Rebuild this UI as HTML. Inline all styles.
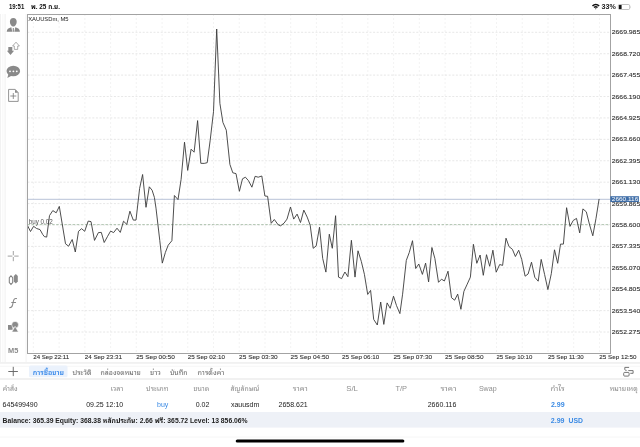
<!DOCTYPE html>
<html><head><meta charset="utf-8">
<style>
html,body{margin:0;padding:0;background:#fff;}
body{width:640px;height:447px;overflow:hidden;position:relative;font-family:"Liberation Sans","Noto Sans Thai Looped",sans-serif;}
svg{position:absolute;left:0;top:0;}
text{font-family:"Liberation Sans","Noto Sans Thai Looped",sans-serif;}
.th{font-family:"Liberation Sans","Noto Sans Thai Looped",sans-serif;}
.hgrid line{stroke:#e1e1e1;stroke-width:0.8;stroke-dasharray:2 1.6;}
.vgrid line{stroke:#e1e1e1;stroke-width:0.8;stroke-dasharray:1 3;}
.plab text{font-size:6px;fill:#333;stroke:#333;stroke-width:0.12px;}
.tlab text{font-size:6.1px;fill:#333;stroke:#333;stroke-width:0.1px;}
.ic{fill:#8a8a8a;}
.hdr text{font-size:6.6px;fill:#8e8e8e;}
.row text{font-size:7px;fill:#222;}
.tabs text{font-size:6.6px;fill:#6a6a6a;}
</style></head><body>
<svg width="640" height="447" viewBox="0 0 640 447">
<!-- status bar -->
<text x="8.9" y="8.8" style="font-size:6.6px;font-weight:bold;fill:#111" textLength="15.4" lengthAdjust="spacingAndGlyphs">19:51</text>
<text x="31" y="8.8" style="font-size:6.6px;font-weight:bold;fill:#111" textLength="29" lengthAdjust="spacingAndGlyphs">พ. 25 ก.ย.</text>
<g fill="#111">
<path d="M591.9,5.4 A5.6,5.6 0 0 1 599.7,5.4 L598.6,6.6 A4,4 0 0 0 593,6.6 Z"/>
<path d="M593.5,7 A3.4,3.4 0 0 1 598.1,7 L597,8.1 A1.9,1.9 0 0 0 594.6,8.1 Z"/>
<path d="M595.1,8.6 A1,1 0 0 1 596.5,8.6 L595.8,9.4 Z"/>
</g>
<text x="601.6" y="8.9" style="font-size:6.5px;font-weight:bold;fill:#222" textLength="14.3" lengthAdjust="spacingAndGlyphs">33%</text>
<rect x="618.3" y="4.5" width="11.4" height="5" rx="1.3" fill="none" stroke="#999" stroke-width="0.6"/>
<rect x="618.9" y="5.1" width="2.7" height="3.8" rx="0.5" fill="#111"/>
<path d="M630.2,6.2 Q631.3,7.05 630.2,7.9 Z" fill="#aaa"/>

<!-- sidebar icons -->
<rect x="0" y="14" width="1" height="348" fill="#f2f2f2"/>
<rect x="2.5" y="14" width="0.8" height="348" fill="#f5f5f5"/>
<rect x="4.6" y="14" width="1" height="348" fill="#f0f0f0"/>
<rect x="25.6" y="14" width="1" height="348" fill="#f3f3f3"/>
<g class="ic">
<path d="M13.3,17.9 C15.5,17.9 16.7,19.6 16.7,21.8 C16.7,24.3 15.2,26.6 13.3,26.6 C11.4,26.6 9.9,24.3 9.9,21.8 C9.9,19.6 11.1,17.9 13.3,17.9 Z"/>
<path d="M6.7,31.8 C6.7,29.3 8.4,27.9 11.3,27.2 L12.3,31.8 Z"/>
<path d="M19.9,31.8 C19.9,29.3 18.2,27.9 15.3,27.2 L14.3,31.8 Z"/>
<path d="M12.8,28.1 H13.8 L14,31.8 H12.6 Z"/>
</g>
<g class="ic">
<path d="M8.3,46.9 H12.3 V50.7 H14.1 L10.5,55.1 L6.9,50.7 H8.3 Z"/>
</g>
<path d="M16,42.2 L19.4,46 H17.7 V49.4 H14.3 V46 H12.6 Z" fill="#fff" stroke="#8a8a8a" stroke-width="0.7"/>
<g class="ic">
<ellipse cx="13.3" cy="71" rx="6.8" ry="5.3"/>
<path d="M8.5,74 L7.3,78 L12,75.6 Z"/>
</g>
<g fill="#fff"><circle cx="10" cy="71.3" r="0.9"/><circle cx="13.4" cy="71.3" r="0.9"/><circle cx="16.8" cy="71.3" r="0.9"/></g>
<path d="M8.6,89.4 H15.2 L18.2,92.6 V101.4 H8.6 Z" fill="none" stroke="#7a7a7a" stroke-width="0.8"/>
<path d="M15,89.4 L18.2,92.7 H15 Z" fill="#8a8a8a"/>
<path d="M10.3,96 H16.3 M13.3,93 V99" stroke="#7a7a7a" stroke-width="0.8"/>
<path d="M7.7,256.1 H12.4 M14.2,256.1 H18.6 M13.3,251 V255.2 M13.3,257 V261.2" stroke="#8a8a8a" stroke-width="0.8"/>
<path d="M11,275.8 L12.7,277.7 V282.5 L11,284.4 L9.3,282.5 V277.7 Z" fill="#fff" stroke="#808080" stroke-width="1.05"/>
<path d="M15.8,273.9 L17.8,276 V281.4 L15.8,283.5 L13.8,281.4 V276 Z" fill="#8a8a8a"/>
<path d="M16.5,298.6 C14.9,298 13.9,299.3 13.4,301.2 L12.6,304.8 C12.2,306.6 11.3,307.6 9.6,307.7 M11.7,302.4 H15.6" fill="none" stroke="#888" stroke-width="1.05" stroke-linecap="round"/>
<rect x="8" y="325" width="4.6" height="4.8" fill="#8a8a8a"/>
<circle cx="15.1" cy="324.8" r="3.4" fill="#8a8a8a" stroke="#fff" stroke-width="0.6"/>
<path d="M15.1,326.3 L18.4,332 H11.8 Z" fill="#8a8a8a" stroke="#fff" stroke-width="0.6"/>
<text x="8" y="352.9" style="font-size:7.4px;font-weight:bold;fill:#8a8a8a">M5</text>

<!-- chart -->
<g class="hgrid"><line x1="27.5" y1="32.30" x2="610.5" y2="32.30"/><line x1="27.5" y1="53.71" x2="610.5" y2="53.71"/><line x1="27.5" y1="75.12" x2="610.5" y2="75.12"/><line x1="27.5" y1="96.53" x2="610.5" y2="96.53"/><line x1="27.5" y1="117.94" x2="610.5" y2="117.94"/><line x1="27.5" y1="139.35" x2="610.5" y2="139.35"/><line x1="27.5" y1="160.76" x2="610.5" y2="160.76"/><line x1="27.5" y1="182.17" x2="610.5" y2="182.17"/><line x1="27.5" y1="203.58" x2="610.5" y2="203.58"/><line x1="27.5" y1="224.99" x2="610.5" y2="224.99"/><line x1="27.5" y1="246.40" x2="610.5" y2="246.40"/><line x1="27.5" y1="267.81" x2="610.5" y2="267.81"/><line x1="27.5" y1="289.22" x2="610.5" y2="289.22"/><line x1="27.5" y1="310.63" x2="610.5" y2="310.63"/><line x1="27.5" y1="332.04" x2="610.5" y2="332.04"/></g>
<g class="vgrid"><line x1="33.40" y1="14.5" x2="33.40" y2="352.5"/><line x1="59.13" y1="14.5" x2="59.13" y2="352.5"/><line x1="84.86" y1="14.5" x2="84.86" y2="352.5"/><line x1="110.59" y1="14.5" x2="110.59" y2="352.5"/><line x1="136.32" y1="14.5" x2="136.32" y2="352.5"/><line x1="162.05" y1="14.5" x2="162.05" y2="352.5"/><line x1="187.78" y1="14.5" x2="187.78" y2="352.5"/><line x1="213.51" y1="14.5" x2="213.51" y2="352.5"/><line x1="239.24" y1="14.5" x2="239.24" y2="352.5"/><line x1="264.97" y1="14.5" x2="264.97" y2="352.5"/><line x1="290.70" y1="14.5" x2="290.70" y2="352.5"/><line x1="316.43" y1="14.5" x2="316.43" y2="352.5"/><line x1="342.16" y1="14.5" x2="342.16" y2="352.5"/><line x1="367.89" y1="14.5" x2="367.89" y2="352.5"/><line x1="393.62" y1="14.5" x2="393.62" y2="352.5"/><line x1="419.35" y1="14.5" x2="419.35" y2="352.5"/><line x1="445.08" y1="14.5" x2="445.08" y2="352.5"/><line x1="470.81" y1="14.5" x2="470.81" y2="352.5"/><line x1="496.54" y1="14.5" x2="496.54" y2="352.5"/><line x1="522.27" y1="14.5" x2="522.27" y2="352.5"/><line x1="548.00" y1="14.5" x2="548.00" y2="352.5"/><line x1="573.73" y1="14.5" x2="573.73" y2="352.5"/><line x1="599.46" y1="14.5" x2="599.46" y2="352.5"/></g>
<line x1="27.5" y1="199.3" x2="610" y2="199.3" stroke="#aab6cf" stroke-width="0.85"/>
<line x1="27.5" y1="224.6" x2="610" y2="224.6" stroke="#a3bba3" stroke-width="0.85" stroke-dasharray="2.5 1.6"/>
<text x="28.8" y="223.6" style="font-size:6.3px;fill:#555" textLength="24" lengthAdjust="spacingAndGlyphs">buy 0.02</text>
<text x="28.2" y="20.8" style="font-size:5.8px;fill:#1a1a1a" textLength="40.4" lengthAdjust="spacingAndGlyphs">XAUUSDm, M5</text>
<polyline points="27.3,225.1 30.5,231.5 33.6,226.3 36.6,228.5 40,229.6 42.8,234.6 44.4,236.6 46.7,237.1 49.5,215.6 52.8,210.6 56.2,212.8 59.3,206.4 65.5,243.8 68.6,246.2 72.2,239.5 75.3,252 78.5,231.3 81.6,228.7 84.7,231.3 88.2,221.1 91,221.6 94.5,240.4 98.4,232.6 101.3,232.4 104.2,242.5 107.6,236.3 110.6,231.1 113.6,232.6 117,228.2 120.3,232.4 123.5,221.2 126.8,224.4 129.9,211.2 133.3,220.1 136,220.1 139.6,188.5 142.6,174.5 146,207.3 149.3,186.8 152.1,190.2 154.4,197.4 156,208.2 159.8,240.7 162.3,263.1 165.4,252.4 168.2,245.2 171.9,240.7 174.4,195.5 178,199.6 181.1,179.4 184.5,142.2 187.7,170.4 191.1,149.2 194.1,152.2 197.6,120.6 200.8,163.3 204.2,163.4 207.2,162.7 210.2,140.2 213.5,111.7 216.7,29 219.9,103.4 222.9,122.4 226.3,130.2 229.9,164.4 232.8,172.8 236,173.6 239.4,191.3 242.5,178.8 245.4,177.2 248.5,180.7 251.9,187.2 255.1,176.3 258.2,177.2 261.8,176 264.9,196 267.6,196.3 271.2,223.3 274.3,219.5 278.2,224.8 280.6,225.8 284,223.2 287,219.1 290.5,207 293.7,219.1 297.1,214.1 300.5,222.5 303.8,210.1 307.2,217.1 310.2,225.2 313.2,248.3 316.2,245.9 319.5,227.2 322.7,258.4 325.9,272.1 329.3,234.2 332.3,248.3 335.6,215.7 338.5,277.1 341.6,278.6 344.9,272 347.9,276.7 351.4,240.3 355,277.1 358,250.8 361.3,261.4 364.4,274.3 367.7,294.4 370.6,290.4 373.7,319.4 377.3,325 380.7,302 383.8,324.4 387.1,302.9 390.2,308.3 393.5,296.2 396.5,305.6 399.9,313.6 402.6,294.2 406.3,260.4 409.3,252.4 412.5,240.7 415.7,268.5 418.8,264 422.4,274.4 425.6,263.1 428.6,281.9 431.9,247.5 434.9,258.6 438.5,282.3 441.5,279.2 444.4,281 448,271.2 451.5,297.7 454.6,300.2 457.7,294.1 460.9,309.3 463.9,291.4 467.2,284.2 470.4,277.1 473.4,244.3 476.8,263.3 480.1,255 483.3,275.3 486.5,254.7 489.7,266.3 492.9,250.2 496.2,272.2 499.7,264.5 502.6,265.4 506,238.2 509,246.6 512.4,249.3 515.4,256.5 518.7,250.2 521.7,259.4 525.1,276.2 528.1,274 531.5,262.2 534.8,277.3 538.2,281.2 541.2,259.4 544.6,274.5 547.9,289.6 551.3,273.7 554.5,249.8 557.7,263.3 560.5,244.1 563.4,244.1 566.6,207.7 570,226.4 573.2,220.5 576.5,218.4 579.7,232.9 582.9,208.9 586.3,211.8 589.6,224.9 592.8,235.8 596,218.4 599.1,199" fill="none" stroke="#3a3a3a" stroke-width="0.9" stroke-linejoin="miter"/>
<rect x="27.5" y="14.5" width="583" height="339" fill="none" stroke="#a3a3a3" stroke-width="1"/>
<g class="plab"><text x="611.8" y="34.30" textLength="28.4" lengthAdjust="spacingAndGlyphs">2669.985</text><text x="611.8" y="55.71" textLength="28.4" lengthAdjust="spacingAndGlyphs">2668.720</text><text x="611.8" y="77.12" textLength="28.4" lengthAdjust="spacingAndGlyphs">2667.455</text><text x="611.8" y="98.53" textLength="28.4" lengthAdjust="spacingAndGlyphs">2666.190</text><text x="611.8" y="119.94" textLength="28.4" lengthAdjust="spacingAndGlyphs">2664.925</text><text x="611.8" y="141.35" textLength="28.4" lengthAdjust="spacingAndGlyphs">2663.660</text><text x="611.8" y="162.76" textLength="28.4" lengthAdjust="spacingAndGlyphs">2662.395</text><text x="611.8" y="184.17" textLength="28.4" lengthAdjust="spacingAndGlyphs">2661.130</text><text x="611.8" y="226.99" textLength="28.4" lengthAdjust="spacingAndGlyphs">2658.600</text><text x="611.8" y="248.40" textLength="28.4" lengthAdjust="spacingAndGlyphs">2657.335</text><text x="611.8" y="269.81" textLength="28.4" lengthAdjust="spacingAndGlyphs">2656.070</text><text x="611.8" y="291.22" textLength="28.4" lengthAdjust="spacingAndGlyphs">2654.805</text><text x="611.8" y="312.63" textLength="28.4" lengthAdjust="spacingAndGlyphs">2653.540</text><text x="611.8" y="334.04" textLength="28.4" lengthAdjust="spacingAndGlyphs">2652.275</text><text x="611.8" y="205.58" textLength="28.4" lengthAdjust="spacingAndGlyphs">2659.865</text></g>
<rect x="610.3" y="196.2" width="28.6" height="5.8" fill="#3f6ea8"/>
<text x="611.8" y="201.4" style="font-size:6px;fill:#fff" textLength="26.5" lengthAdjust="spacingAndGlyphs">2660.116</text>
<g class="tlab"><text x="33.30" y="359.3" textLength="35.8" lengthAdjust="spacingAndGlyphs">24 Sep 22:11</text><text x="84.76" y="359.3" textLength="37.2" lengthAdjust="spacingAndGlyphs">24 Sep 23:31</text><text x="136.22" y="359.3" textLength="38.6" lengthAdjust="spacingAndGlyphs">25 Sep 00:50</text><text x="187.68" y="359.3" textLength="37.2" lengthAdjust="spacingAndGlyphs">25 Sep 02:10</text><text x="239.14" y="359.3" textLength="38.6" lengthAdjust="spacingAndGlyphs">25 Sep 03:30</text><text x="290.60" y="359.3" textLength="38.6" lengthAdjust="spacingAndGlyphs">25 Sep 04:50</text><text x="342.06" y="359.3" textLength="37.2" lengthAdjust="spacingAndGlyphs">25 Sep 06:10</text><text x="393.52" y="359.3" textLength="38.6" lengthAdjust="spacingAndGlyphs">25 Sep 07:30</text><text x="444.98" y="359.3" textLength="38.6" lengthAdjust="spacingAndGlyphs">25 Sep 08:50</text><text x="496.44" y="359.3" textLength="35.8" lengthAdjust="spacingAndGlyphs">25 Sep 10:10</text><text x="547.90" y="359.3" textLength="35.8" lengthAdjust="spacingAndGlyphs">25 Sep 11:30</text><text x="599.36" y="359.3" textLength="37.2" lengthAdjust="spacingAndGlyphs">25 Sep 12:50</text></g>

<!-- tab bar -->
<rect x="0" y="362" width="640" height="1.8" fill="#f1f1f1"/>
<rect x="0" y="365.8" width="640" height="0.9" fill="#f5f5f5"/>
<rect x="0" y="378" width="640" height="2" fill="#f1f1f1"/>
<path d="M8.3,371.5 H17.9 M13.25,366.8 V376.1" stroke="#666" stroke-width="0.95"/>
<rect x="29" y="365.6" width="38.5" height="11.6" rx="1.5" fill="#ebf2fc"/>
<g class="tabs">
<text x="32.8" y="374.6" style="fill:#3a8aea;font-weight:600" textLength="31.2" lengthAdjust="spacingAndGlyphs">การซื้อขาย</text>
<text x="72.5" y="374.6" textLength="19" lengthAdjust="spacingAndGlyphs">ประวัติ</text>
<text x="100.6" y="374.6" textLength="40.3" lengthAdjust="spacingAndGlyphs">กล่องจดหมาย</text>
<text x="150" y="374.6" textLength="10.8" lengthAdjust="spacingAndGlyphs">ข่าว</text>
<text x="169.9" y="374.6" textLength="17.6" lengthAdjust="spacingAndGlyphs">บันทึก</text>
<text x="197.5" y="374.6" textLength="26.7" lengthAdjust="spacingAndGlyphs">การตั้งค่า</text>
</g>
<g fill="none" stroke="#6e6e6e" stroke-width="0.95">
<rect x="623.7" y="372.4" width="5.4" height="3.7" rx="1"/>
<path d="M629.1,367.4 H624.8 V369.5 Q624.8,370.4 626.6,370.4 M628.3,370.6 H633.1 V373.3 H630.3"/>
</g>

<!-- table header -->
<g class="hdr">
<text x="2.7" y="390.6" textLength="15" lengthAdjust="spacingAndGlyphs">คำสั่ง</text>
<text x="123.2" y="390.6" text-anchor="end" textLength="12.7" lengthAdjust="spacingAndGlyphs">เวลา</text>
<text x="168.3" y="390.6" text-anchor="end" textLength="22.2" lengthAdjust="spacingAndGlyphs">ประเภท</text>
<text x="209.3" y="390.6" text-anchor="end" textLength="15.7" lengthAdjust="spacingAndGlyphs">ขนาด</text>
<text x="259.3" y="390.6" text-anchor="end" textLength="28.7" lengthAdjust="spacingAndGlyphs">สัญลักษณ์</text>
<text x="307.7" y="390.6" text-anchor="end" textLength="14.9" lengthAdjust="spacingAndGlyphs">ราคา</text>
<text x="357.9" y="390.6" text-anchor="end" textLength="11.7" lengthAdjust="spacingAndGlyphs">S/L</text>
<text x="407.1" y="390.6" text-anchor="end" textLength="11.6" lengthAdjust="spacingAndGlyphs">T/P</text>
<text x="456.4" y="390.6" text-anchor="end" textLength="16" lengthAdjust="spacingAndGlyphs">ราคา</text>
<text x="496.6" y="390.6" text-anchor="end" textLength="17.7" lengthAdjust="spacingAndGlyphs">Swap</text>
<text x="564.6" y="390.6" text-anchor="end" textLength="14.2" lengthAdjust="spacingAndGlyphs">กำไร</text>
<text x="637.7" y="390.6" text-anchor="end" textLength="28" lengthAdjust="spacingAndGlyphs">หมายเหตุ</text>
</g>
<g class="row">
<text x="2.6" y="406.9">645499490</text>
<text x="123.2" y="406.9" text-anchor="end">09.25 12:10</text>
<text x="168.3" y="406.9" text-anchor="end" style="fill:#3a8ae4">buy</text>
<text x="209.3" y="406.9" text-anchor="end">0.02</text>
<text x="259.3" y="406.9" text-anchor="end">xauusdm</text>
<text x="307.7" y="406.9" text-anchor="end">2658.621</text>
<text x="456.4" y="406.9" text-anchor="end">2660.116</text>
<text x="564.6" y="406.9" text-anchor="end" style="fill:#3a8ae4;font-weight:bold">2.99</text>
</g>
<rect x="0" y="412" width="640" height="15.6" fill="#eef1f7"/>
<text x="2.6" y="422.9" style="font-size:7px;font-weight:bold;fill:#222" textLength="245" lengthAdjust="spacingAndGlyphs">Balance: 365.39 Equity: 368.38 หลักประกัน: 2.66 ฟรี: 365.72 Level: 13 856.06%</text>
<text x="550.8" y="422.9" style="font-size:7px;font-weight:bold;fill:#3a8ae4">2.99</text><text x="568.6" y="422.9" style="font-size:7px;font-weight:bold;fill:#3a8ae4" textLength="14.4" lengthAdjust="spacingAndGlyphs">USD</text>
<rect x="0" y="436.7" width="640" height="0.7" fill="#f2f2f2"/>
<rect x="235.7" y="439.4" width="168.7" height="3.2" rx="1.6" fill="#000"/>
</svg>
</body></html>
